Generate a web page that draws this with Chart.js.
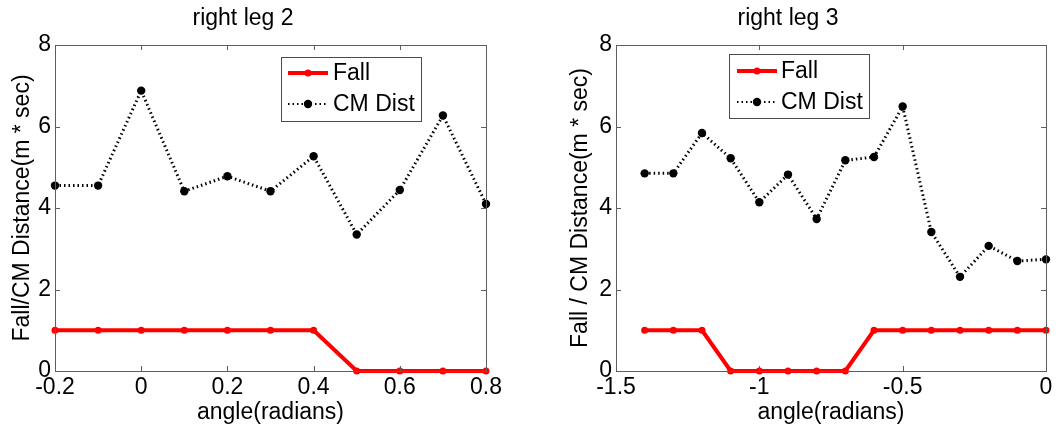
<!DOCTYPE html>
<html>
<head>
<meta charset="utf-8">
<script src="https://cdn.jsdelivr.net/npm/chart.js@4.4.1/dist/chart.umd.min.js"></script>
<style>
  html, body { margin: 0; padding: 0; background: #fff; }
  body { width: 1060px; height: 425px; position: relative; overflow: hidden; }
  canvas { position: absolute; top: 0; }
</style>
</head>
<body>
<canvas id="leg2" width="530" height="425" style="left:0px"></canvas>
<canvas id="leg3" width="530" height="425" style="left:530px"></canvas>
<script>
// ---- data: right leg 2 ----
const leg2Angles = [-0.2, -0.1, 0, 0.1, 0.2, 0.3, 0.4, 0.5, 0.6, 0.7, 0.8];
const leg2Fall   = [1, 1, 1, 1, 1, 1, 1, 0, 0, 0, 0];
const leg2CmDist = [4.55, 4.55, 6.88, 4.41, 4.78, 4.41, 5.27, 3.35, 4.44, 6.27, 4.10];
const leg2XTicks = [-0.2, 0, 0.2, 0.4, 0.6, 0.8];

// ---- data: right leg 3 ----
const leg3Angles = [-1.4, -1.3, -1.2, -1.1, -1.0, -0.9, -0.8, -0.7, -0.6, -0.5, -0.4, -0.3, -0.2, -0.1, 0];
const leg3Fall   = [1, 1, 1, 0, 0, 0, 0, 0, 1, 1, 1, 1, 1, 1, 1];
const leg3CmDist = [4.85, 4.85, 5.84, 5.22, 4.14, 4.82, 3.73, 5.17, 5.25, 6.49, 3.41, 2.31, 3.07, 2.70, 2.74];
const leg3XTicks = [-1.5, -1, -0.5, 0];

const yTicks = [0, 2, 4, 6, 8];
const seriesNames = ['Fall', 'CM Dist'];

const FONT = 'Liberation Sans, Arial, Helvetica, sans-serif';
const AXIS_GREY = '#5e5e5e';

// Closed axes box with inward tick marks on all four sides
const boxTicks = {
  id: 'boxTicks',
  afterDatasetsDraw(chart) {
    const { ctx, chartArea: a, scales } = chart;
    const len = 5;
    ctx.save();
    ctx.strokeStyle = AXIS_GREY;
    ctx.lineWidth = 1;
    ctx.beginPath();
    scales.x.ticks.forEach(t => {
      const px = Math.round(scales.x.getPixelForValue(t.value)) + 0.5;
      ctx.moveTo(px, a.bottom); ctx.lineTo(px, a.bottom - len);
      ctx.moveTo(px, a.top);    ctx.lineTo(px, a.top + len);
    });
    scales.y.ticks.forEach(t => {
      const py = Math.round(scales.y.getPixelForValue(t.value)) + 0.5;
      ctx.moveTo(a.left, py);  ctx.lineTo(a.left + len, py);
      ctx.moveTo(a.right, py); ctx.lineTo(a.right - len, py);
    });
    ctx.stroke();
    ctx.strokeRect(Math.round(a.left) + 0.5, Math.round(a.top) + 0.5,
                   Math.round(a.right - a.left), Math.round(a.bottom - a.top));
    ctx.restore();
  }
};

// Framed legend inside the plot area, styled from the datasets
const framedLegend = {
  id: 'framedLegend',
  afterDraw(chart, args, o) {
    const { ctx } = chart;
    ctx.save();
    ctx.fillStyle = '#fff';
    ctx.fillRect(o.x, o.y, o.w, o.h);
    ctx.strokeStyle = '#4a4a4a';
    ctx.lineWidth = 1;
    ctx.strokeRect(o.x + 0.5, o.y + 0.5, o.w, o.h);
    chart.data.datasets.forEach((ds, i) => {
      const cy = o.rows[i];
      ctx.save();
      ctx.strokeStyle = ds.borderColor;
      ctx.lineWidth = ds.borderDash ? 2 : ds.borderWidth;
      ctx.setLineDash(ds.borderDash || []);
      ctx.beginPath();
      ctx.moveTo(o.lineX1, cy);
      ctx.lineTo(o.lineX2, cy);
      ctx.stroke();
      ctx.restore();
      ctx.fillStyle = ds.pointBackgroundColor;
      ctx.beginPath();
      ctx.arc((o.lineX1 + o.lineX2) / 2, cy, ds.pointRadius, 0, Math.PI * 2);
      ctx.fill();
      ctx.fillStyle = '#000';
      ctx.font = '23px ' + FONT;
      ctx.textBaseline = 'middle';
      ctx.textAlign = 'left';
      ctx.fillText(ds.label, o.textX, cy + 1);
    });
    ctx.restore();
  }
};

function points(xs, ys) {
  return xs.map((x, i) => ({ x: x, y: ys[i] }));
}

function makeChart(id, cfg) {
  return new Chart(document.getElementById(id), {
    type: 'line',
    data: {
      datasets: [
        {
          label: seriesNames[0],
          data: points(cfg.angles, cfg.fall),
          borderColor: '#ff0000',
          borderWidth: 4,
          pointRadius: 3.5,
          pointBackgroundColor: '#ff0000',
          pointBorderWidth: 0,
          tension: 0,
          clip: false
        },
        {
          label: seriesNames[1],
          data: points(cfg.angles, cfg.cm),
          borderColor: '#000000',
          borderWidth: 3,
          borderDash: [1.5, 3],
          pointRadius: 4.2,
          pointBackgroundColor: '#000000',
          pointBorderWidth: 0,
          tension: 0,
          clip: false
        }
      ]
    },
    options: {
      responsive: false,
      animation: false,
      devicePixelRatio: 1,
      layout: { padding: { left: 0, right: cfg.padRight, top: 0, bottom: 0 } },
      plugins: {
        legend: { display: false },
        tooltip: { enabled: false },
        title: {
          display: true,
          text: cfg.title,
          color: '#000',
          font: { family: FONT, size: 23, weight: 'normal' },
          padding: { top: 5, bottom: 12.4 }
        },
        framedLegend: cfg.legend
      },
      scales: {
        x: {
          type: 'linear',
          min: cfg.xTicks[0],
          max: cfg.xTicks[cfg.xTicks.length - 1],
          afterBuildTicks: s => { s.ticks = cfg.xTicks.map(v => ({ value: v })); },
          afterFit: s => { s.height = 54; },
          ticks: {
            color: '#000',
            font: { family: FONT, size: 23 },
            padding: 3,
            maxRotation: 0,
            autoSkip: false,
            callback: v => String(Math.round(v * 10) / 10)
          },
          grid: { display: false, drawTicks: false },
          border: { display: false },
          title: {
            display: true,
            text: 'angle(radians)',
            color: '#000',
            font: { family: FONT, size: 23, lineHeight: 1 },
            padding: { top: 0, bottom: 1 }
          }
        },
        y: {
          type: 'linear',
          min: yTicks[0],
          max: yTicks[yTicks.length - 1],
          afterBuildTicks: s => { s.ticks = yTicks.map(v => ({ value: v })); },
          afterFit: s => { s.width = cfg.yWidth; },
          ticks: {
            color: '#000',
            font: { family: FONT, size: 23 },
            padding: 4,
            callback: v => String(v)
          },
          grid: { display: false, drawTicks: false },
          border: { display: false },
          title: {
            display: true,
            text: cfg.yTitle,
            color: '#000',
            font: { family: FONT, size: 23, lineHeight: 1 },
            padding: { top: cfg.yTitlePad, bottom: 0 }
          }
        }
      }
    },
    plugins: [boxTicks, framedLegend]
  });
}

makeChart('leg2', {
  title: 'right leg 2',
  yTitle: 'Fall/CM Distance(m * sec)',
  angles: leg2Angles, fall: leg2Fall, cm: leg2CmDist, xTicks: leg2XTicks,
  yWidth: 55, yTitlePad: 11, padRight: 44,
  legend: { x: 281, y: 57, w: 140, h: 64, rows: [73, 104], lineX1: 288, lineX2: 328, textX: 333 }
});

makeChart('leg3', {
  title: 'right leg 3',
  yTitle: 'Fall / CM Distance(m * sec)',
  angles: leg3Angles, fall: leg3Fall, cm: leg3CmDist, xTicks: leg3XTicks,
  yWidth: 86, yTitlePad: 39.5, padRight: 14,
  legend: { x: 199, y: 54, w: 140, h: 64, rows: [71, 102], lineX1: 207, lineX2: 247, textX: 251 }
});
</script>
</body>
</html>
